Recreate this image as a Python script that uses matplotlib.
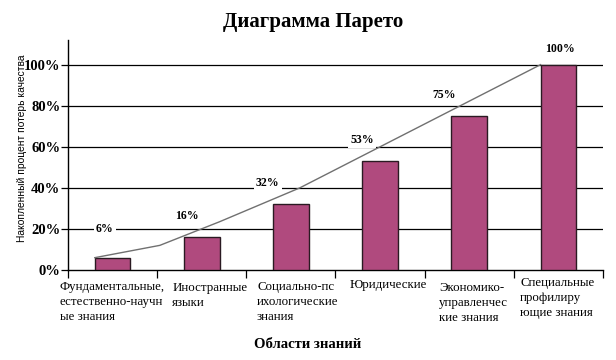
import matplotlib
matplotlib.use("Agg")
import matplotlib.pyplot as plt
import numpy as np

categories = ["Фундаментальные,\nестественно-научн\nые знания",
              "Иностранные\nязыки",
              "Социально-пс\nихологические\nзнания",
              "Юридические",
              "Экономико-\nуправленчес\nкие знания",
              "Специальные\nпрофилиру\nющие знания"]
cum_values = [6, 16, 32, 53, 75, 100]
value_labels = ["6%", "16%", "32%", "53%", "75%", "100%"]
line_x = [-0.2, 0.53, 1.2, 2.1, 4.8]
line_y = [6, 12, 23.5, 40, 100]
yticks = [0, 20, 40, 60, 80, 100]
ytick_labels = ["0%", "20%", "40%", "60%", "80%", "100%"]

serif = ["Liberation Serif", "DejaVu Serif"]

fig = plt.figure(figsize=(6.16, 3.6), dpi=100)
ax = fig.add_axes([68/616, 90/360, 535/616, 230/360])

x = np.arange(len(categories))
ax.set_xlim(-0.5, 5.5)
ax.set_ylim(0, 112)

for yv in yticks[1:]:
    ax.axhline(yv, color="black", lw=0.9, zorder=1)

ax.bar(x, cum_values, width=0.4, color="#B04A7E", edgecolor="#2a1a22", lw=1.0, zorder=3)
ax.plot(line_x, line_y, color="#707070", lw=1.0, zorder=4)

label_pos_x = [-0.09, 0.83, 1.74, 2.8, 3.72, 5.02]
label_pos_y = [20, 26.3, 42.4, 63.4, 85.4, 107.8]
for lx, ly, t in zip(label_pos_x, label_pos_y, value_labels):
    ax.text(lx, ly, t, ha="center", va="center", fontsize=8.5, fontweight="bold",
            family=serif, zorder=5,
            bbox=dict(facecolor="white", edgecolor="none", pad=1.5))

for sp in ["top", "right"]:
    ax.spines[sp].set_visible(False)
ax.spines["left"].set_linewidth(1.0)
ax.spines["bottom"].set_linewidth(1.0)

ax.set_yticks(yticks)
ax.set_yticklabels(ytick_labels, fontsize=10.5, fontweight="bold", family=serif)
ax.tick_params(axis="y", direction="out", length=5, width=0.9, pad=0.5)

ax.set_xticks(np.arange(-0.5, 6.0, 1.0))
ax.set_xticklabels([])
ax.tick_params(axis="x", direction="out", length=6, width=0.9)

label_left = [-0.59, 0.67, 1.62, 2.66, 3.66, 4.57]
label_top = [-5.5, -6.0, -5.5, -4.5, -6.0, -3.5]
for lx, ly, t in zip(label_left, label_top, categories):
    ax.text(lx, ly, t, ha="left", va="top", fontsize=9.3, family=serif,
            linespacing=1.3, clip_on=False)

fig.text(313/616, 1 - 22/360, "Диаграмма Парето", ha="center", va="center",
         fontsize=15, fontweight="bold", family=serif)
fig.text(308/616, 1 - 344/360, "Области знаний", ha="center", va="center",
         fontsize=10.5, fontweight="bold", family=serif)
fig.text(22/616, 1 - 148/360, "Накопленный процент потерь качества", rotation=90,
         ha="center", va="center", fontsize=7.4, family=["Liberation Sans", "DejaVu Sans"])

fig.savefig("out.png", dpi=100)
